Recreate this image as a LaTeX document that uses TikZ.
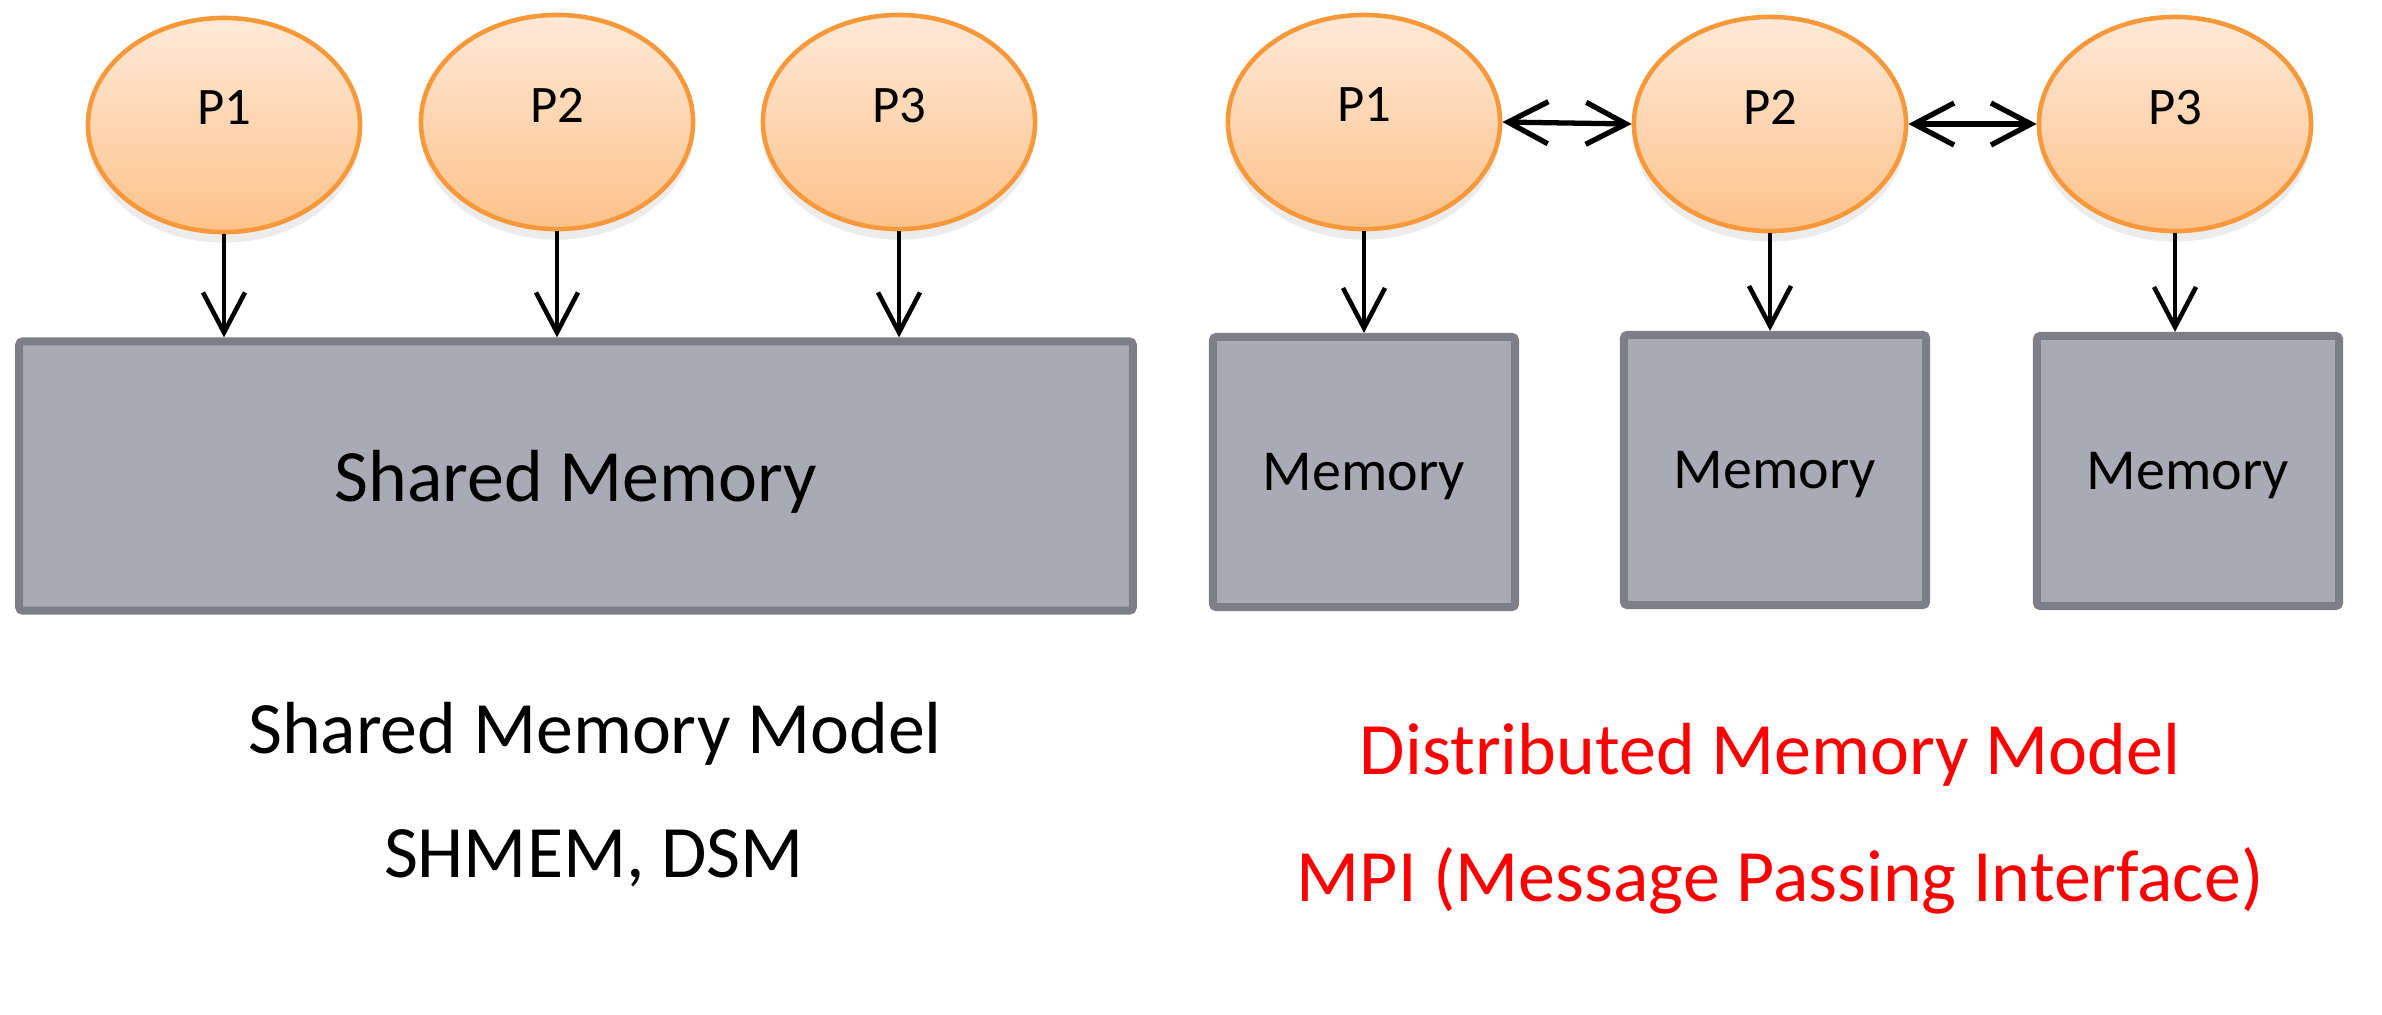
\documentclass[tikz,border=0pt]{standalone}
\usepackage{fontspec}
\setmainfont{Carlito}
\usetikzlibrary{shapes.geometric,arrows.meta,shadows}
\definecolor{procfill}{HTML}{FDC28A}
\definecolor{proctop}{HTML}{FEE9D8}
\definecolor{procline}{HTML}{F7993A}
\definecolor{memfill}{HTML}{AAAAB6}
\definecolor{memline}{HTML}{7E7E89}
\begin{document}
\begin{tikzpicture}[x=0.01cm,y=-0.01cm,
    proc/.style={ellipse,draw=procline,line width=1.3pt,top color=proctop,bottom color=procfill,
      minimum width=2.72cm,minimum height=2.14cm,inner sep=0pt,text depth=0.34cm,
      font=\fontsize{15pt}{18pt}\selectfont,
      drop shadow={shadow xshift=0pt,shadow yshift=-3pt,opacity=0.15}},
    mem/.style={rectangle,draw=memline,fill=memfill,line width=2.3pt,rounded corners=1pt,
      inner sep=0pt,text depth=0pt},
    link/.style={line width=1.3pt,-{Straight Barb[length=0.4cm,width=0.42cm]}},
    both/.style={line width=1.5pt,{Straight Barb[length=0.4cm,width=0.42cm]}-{Straight Barb[length=0.4cm,width=0.42cm]}},
    caption/.style={font=\fontsize{21pt}{25pt}\selectfont}]
  \useasboundingbox (0,0) rectangle (2382,1014);

  % shared memory model
  \node[proc] (sp1) at (224,125) {P1};
  \node[proc] (sp2) at (557,122) {P2};
  \node[proc] (sp3) at (899,122) {P3};
  \node[mem,minimum width=11.13cm,minimum height=2.69cm,font=\fontsize{21pt}{25pt}\selectfont]
    (shared) at (576,476) {Shared Memory};
  \draw[link] (sp1.south) -- (sp1.south |- shared.north);
  \draw[link] (sp2.south) -- (sp2.south |- shared.north);
  \draw[link] (sp3.south) -- (sp3.south |- shared.north);
  \node[caption] (smodel) at (595,734) {Shared Memory Model};
  \node[caption] (sapi) at (594,858) {SHMEM, DSM};

  % distributed memory model
  \node[proc] (dp1) at (1364,122) {P1};
  \node[proc] (dp2) at (1770,124) {P2};
  \node[proc] (dp3) at (2175,124) {P3};
  \node[mem,minimum width=3.02cm,minimum height=2.70cm,font=\fontsize{16.5pt}{20pt}\selectfont]
    (dm1) at (1364,472) {Memory};
  \node[mem,minimum width=3.02cm,minimum height=2.70cm,font=\fontsize{16.5pt}{20pt}\selectfont]
    (dm2) at (1775,470) {Memory};
  \node[mem,minimum width=3.02cm,minimum height=2.70cm,font=\fontsize{16.5pt}{20pt}\selectfont]
    (dm3) at (2188,471) {Memory};
  \draw[link] (dp1.south) -- (dp1.south |- dm1.north);
  \draw[link] (dp2.south) -- (dp2.south |- dm2.north);
  \draw[link] (dp3.south) -- (dp3.south |- dm3.north);
  \draw[both] (dp1.east) -- (dp2.west);
  \draw[both] (dp2.east) -- (dp3.west);
  \node[caption,text=red] (dmodel) at (1770,755) {Distributed Memory Model};
  \node[caption,text=red] (dapi) at (1780,881) {MPI (Message Passing Interface)};
\end{tikzpicture}
\end{document}
